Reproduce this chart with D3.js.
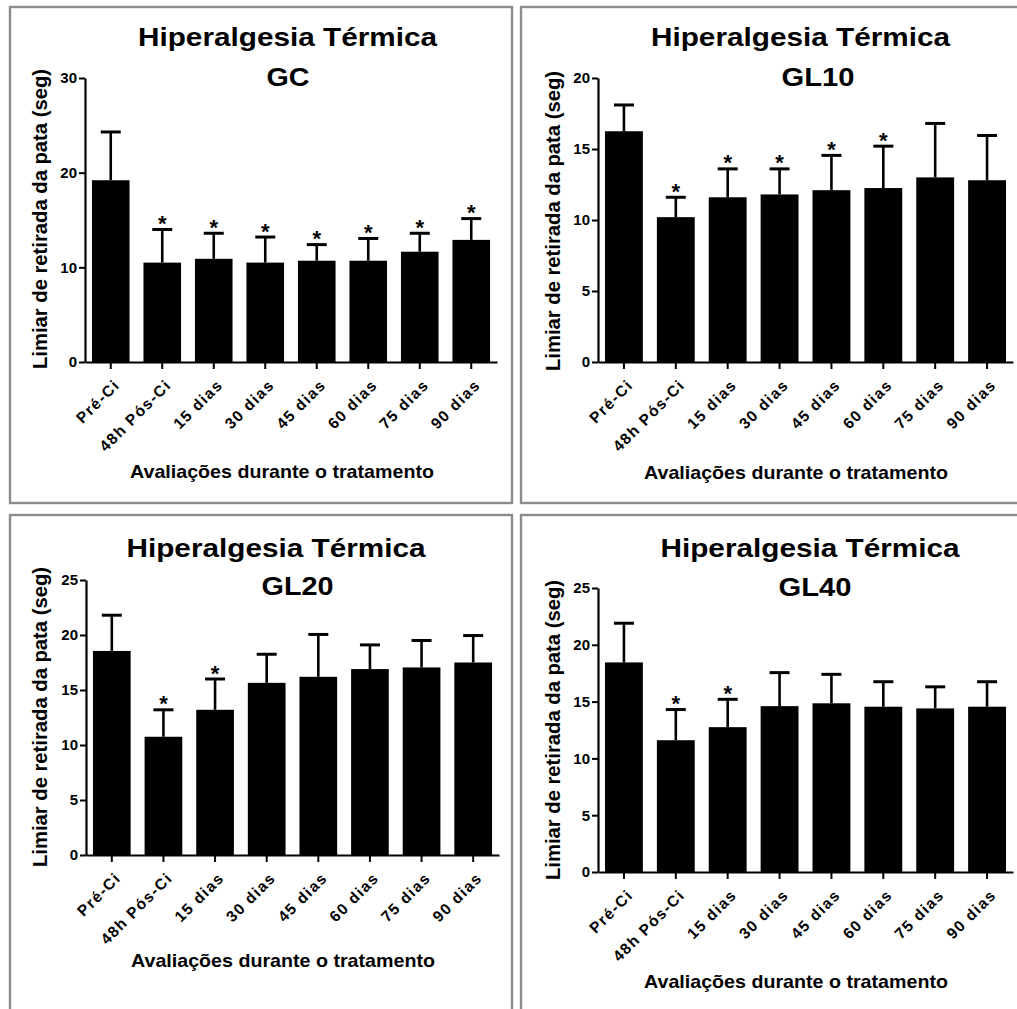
<!DOCTYPE html>
<html>
<head>
<meta charset="utf-8">
<script src="https://cdn.jsdelivr.net/npm/d3@7"></script>
<style>
  html, body { margin: 0; padding: 0; background: #fff; }
  svg { display: block; font-family: "Liberation Sans", Arial, sans-serif; }
</style>
</head>
<body>
<svg id="fig" width="1017" height="1009"></svg>
<script>
// Evaluation time points (x categories)
const categories = ["Pré-Ci", "48h Pós-Ci", "15 dias", "30 dias", "45 dias", "60 dias", "75 dias", "90 dias"];

// Paw withdrawal threshold (s): mean and upper deviation per group
const gcMean   = [19.2, 10.5, 10.9, 10.5, 10.7, 10.7, 11.65, 12.9];
const gcSd     = [5.1, 3.5, 2.7, 2.7, 1.7, 2.35, 1.95, 2.25];
const gcSig    = [0, 1, 1, 1, 1, 1, 1, 1];

const gl10Mean = [16.25, 10.2, 11.6, 11.8, 12.1, 12.25, 13.0, 12.8];
const gl10Sd   = [1.85, 1.4, 2.0, 1.8, 2.45, 2.95, 3.8, 3.15];
const gl10Sig  = [0, 1, 1, 1, 1, 1, 0, 0];

const gl20Mean = [18.55, 10.75, 13.2, 15.65, 16.2, 16.9, 17.05, 17.5];
const gl20Sd   = [3.25, 2.45, 2.8, 2.6, 3.85, 2.2, 2.45, 2.45];
const gl20Sig  = [0, 1, 1, 0, 0, 0, 0, 0];

const gl40Mean = [18.45, 11.6, 12.75, 14.6, 14.85, 14.55, 14.4, 14.55];
const gl40Sd   = [3.45, 2.7, 2.45, 2.95, 2.55, 2.2, 1.9, 2.2];
const gl40Sig  = [0, 1, 1, 0, 0, 0, 0, 0];

// Group names and y-axis ticks
const groupNames = ["GC", "GL10", "GL20", "GL40"];
const gcTicks   = [0, 10, 20, 30];
const gl10Ticks = [0, 5, 10, 15, 20];
const gl20Ticks = [0, 5, 10, 15, 20, 25];
const gl40Ticks = [0, 5, 10, 15, 20, 25];

const titleText  = "Hiperalgesia Térmica";
const yTitleText = "Limiar de retirada da pata (seg)";
const xTitleText = "Avaliações durante o tratamento";

// Panel layout
const panels = [
  { name: groupNames[0], mean: gcMean, sd: gcSd, sig: gcSig, ticks: gcTicks,
    frame: [10, 7, 502, 496], plot: { l: 85, r: 497, t: 78, b: 362 },
    title: { x: 287.5, y: 45.5 }, sub: { x: 288, y: 86, w: 43 },
    yTitle: { x: 47, y: 219 }, xTitle: { x: 282, y: 478 } },
  { name: groupNames[1], mean: gl10Mean, sd: gl10Sd, sig: gl10Sig, ticks: gl10Ticks,
    frame: [521, 7, 510, 496], plot: { l: 598, r: 1013, t: 78, b: 362 },
    title: { x: 800.5, y: 45.5 }, sub: { x: 818, y: 86, w: 73 },
    yTitle: { x: 560, y: 221 }, xTitle: { x: 796, y: 479 } },
  { name: groupNames[2], mean: gl20Mean, sd: gl20Sd, sig: gl20Sig, ticks: gl20Ticks,
    frame: [10, 515, 502, 510], plot: { l: 86, r: 499, t: 580, b: 855 },
    title: { x: 276, y: 556.5 }, sub: { x: 297.5, y: 595, w: 72 },
    yTitle: { x: 47, y: 717 }, xTitle: { x: 283, y: 966.5 } },
  { name: groupNames[3], mean: gl40Mean, sd: gl40Sd, sig: gl40Sig, ticks: gl40Ticks,
    frame: [521, 515, 510, 510], plot: { l: 598, r: 1013, t: 588, b: 872 },
    title: { x: 810, y: 557 }, sub: { x: 815, y: 595.5, w: 73 },
    yTitle: { x: 560, y: 730 }, xTitle: { x: 796, y: 988 } }
];

const svg = d3.select("#fig");
const FONT = "'Liberation Sans', Arial, sans-serif";

panels.forEach(p => {
  const g = svg.append("g");

  // Panel frame
  g.append("rect")
    .attr("x", p.frame[0]).attr("y", p.frame[1])
    .attr("width", p.frame[2]).attr("height", p.frame[3])
    .attr("fill", "none").attr("stroke", "#8c8c8c").attr("stroke-width", 2.4);

  const yMax = d3.max(p.ticks);
  const x = d3.scaleBand().domain(categories)
    .range([p.plot.l, p.plot.r]).paddingInner(0.27).paddingOuter(0.135);
  const y = d3.scaleLinear().domain([0, yMax]).range([p.plot.b, p.plot.t]);

  const rows = categories.map((c, i) => ({ c, m: p.mean[i], s: p.sd[i], sig: p.sig[i] }));

  // Bars
  g.selectAll(".bar").data(rows).join("rect")
    .attr("x", d => x(d.c)).attr("width", x.bandwidth())
    .attr("y", d => y(d.m)).attr("height", d => y(0) - y(d.m))
    .attr("fill", "#000");

  // Upper error bars
  const cx = d => x(d.c) + x.bandwidth() / 2;
  g.selectAll(".err").data(rows).join("line")
    .attr("x1", cx).attr("x2", cx)
    .attr("y1", d => y(d.m)).attr("y2", d => y(d.m + d.s))
    .attr("stroke", "#000").attr("stroke-width", 2.6);
  g.selectAll(".cap").data(rows).join("line")
    .attr("x1", d => cx(d) - 10).attr("x2", d => cx(d) + 10)
    .attr("y1", d => y(d.m + d.s)).attr("y2", d => y(d.m + d.s))
    .attr("stroke", "#000").attr("stroke-width", 3);

  // Significance markers
  g.selectAll(".sig").data(rows.filter(d => d.sig)).join("text")
    .attr("x", cx).attr("y", d => y(d.m + d.s) + 1.5)
    .attr("text-anchor", "middle")
    .style("font-family", FONT).style("font-size", "22px").style("font-weight", "bold")
    .attr("fill", "#000")
    .text("*");

  // Axes
  const yAxis = g.append("g")
    .attr("transform", `translate(${p.plot.l},0)`)
    .call(d3.axisLeft(y).tickValues(p.ticks).tickSize(6).tickSizeOuter(0).tickPadding(2));
  const xAxis = g.append("g")
    .attr("transform", `translate(0,${p.plot.b})`)
    .call(d3.axisBottom(x).tickSize(7).tickSizeOuter(0));

  [yAxis, xAxis].forEach(a => {
    a.select(".domain").attr("stroke", "#000").attr("stroke-width", 2.2);
    a.selectAll(".tick line").attr("stroke", "#000").attr("stroke-width", 2);
  });
  yAxis.selectAll(".tick text")
    .style("font-family", FONT).style("font-size", "15px").style("font-weight", "bold")
    .attr("fill", "#000");
  xAxis.selectAll(".tick text")
    .style("font-family", FONT).style("font-size", "15.5px").style("font-weight", "bold")
    .style("letter-spacing", "1.4px")
    .attr("fill", "#000")
    .attr("text-anchor", "end")
    .attr("dy", null).attr("y", null)
    .attr("transform", "translate(10,24) rotate(-45)");

  // Titles
  g.append("text")
    .attr("x", p.title.x).attr("y", p.title.y)
    .attr("text-anchor", "middle")
    .style("font-size", "25px").style("font-weight", "bold")
    .attr("textLength", 299).attr("lengthAdjust", "spacingAndGlyphs")
    .text(titleText);
  g.append("text")
    .attr("x", p.sub.x).attr("y", p.sub.y)
    .attr("text-anchor", "middle")
    .style("font-size", "25px").style("font-weight", "bold")
    .attr("textLength", p.sub.w).attr("lengthAdjust", "spacingAndGlyphs")
    .text(p.name);

  // Axis titles
  g.append("text")
    .attr("transform", `translate(${p.yTitle.x},${p.yTitle.y}) rotate(-90)`)
    .attr("text-anchor", "middle")
    .style("font-size", "19.5px").style("font-weight", "bold")
    .attr("textLength", 300).attr("lengthAdjust", "spacingAndGlyphs")
    .text(yTitleText);
  g.append("text")
    .attr("x", p.xTitle.x).attr("y", p.xTitle.y)
    .attr("text-anchor", "middle")
    .style("font-size", "19px").style("font-weight", "bold")
    .attr("textLength", 304).attr("lengthAdjust", "spacingAndGlyphs")
    .text(xTitleText);
});
</script>
</body>
</html>
